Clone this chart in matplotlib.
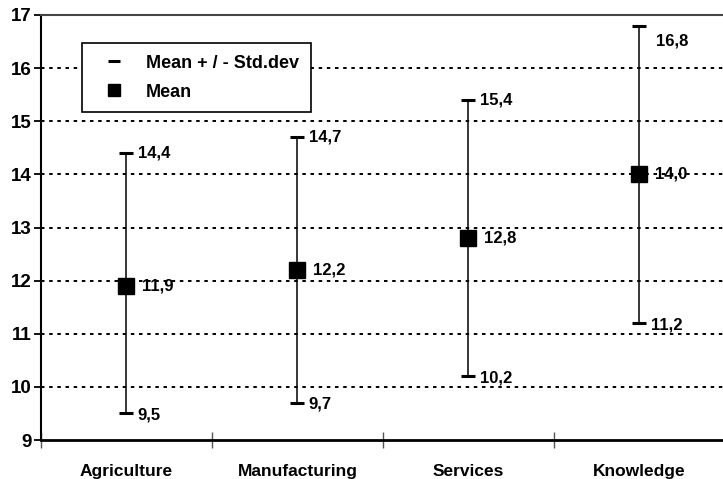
import matplotlib
matplotlib.use("Agg")
import matplotlib.pyplot as plt
from matplotlib.lines import Line2D

# sector statistics
sectors = ["Agriculture", "Manufacturing", "Services", "Knowledge"]
mean_vals = [11.9, 12.2, 12.8, 14.0]
upper_vals = [14.4, 14.7, 15.4, 16.8]
lower_vals = [9.5, 9.7, 10.2, 11.2]
y_ticks = [9, 10, 11, 12, 13, 14, 15, 16, 17]

plt.rcParams["font.family"] = ["Liberation Sans", "DejaVu Sans"]
plt.rcParams["font.weight"] = "bold"


def fmt(v):
    return f"{v:.1f}".replace(".", ",")


fig = plt.figure(figsize=(7.23, 4.79), dpi=100)
ax = fig.add_axes([0.0567, 0.0814, 0.946, 0.8873])

x = [i + 0.5 for i in range(len(sectors))]

# dotted grid
for yv in y_ticks[1:-1]:
    ax.axhline(yv, color="black", lw=1.4, ls=(0, (1.8, 2.4)), zorder=1)

# whiskers
for xi, lo, hi in zip(x, lower_vals, upper_vals):
    ax.plot([xi, xi], [lo, hi], color="black", lw=1.1, zorder=2)
ax.plot(x, upper_vals, ls="none", marker="_", ms=10, mew=2.2, color="black", zorder=3)
ax.plot(x, lower_vals, ls="none", marker="_", ms=10, mew=2.2, color="black", zorder=3)
ax.plot(x, mean_vals, ls="none", marker="s", ms=11, color="black", zorder=4)

# value labels
lab_kw = dict(fontsize=12, fontweight="bold", va="center", ha="left", zorder=5)
for i, (xi, m, lo, hi) in enumerate(zip(x, mean_vals, lower_vals, upper_vals)):
    ax.annotate(fmt(m), (xi, m), xytext=(11, 0), textcoords="offset points", **lab_kw)
    ax.annotate(fmt(lo), (xi, lo), xytext=(8, -1), textcoords="offset points", **lab_kw)
    if i == len(x) - 1:
        ax.annotate(fmt(hi), (xi, hi), xytext=(12, -11), textcoords="offset points", **lab_kw)
    else:
        ax.annotate(fmt(hi), (xi, hi), xytext=(8, 0), textcoords="offset points", **lab_kw)

ax.set_xlim(0, 4)
ax.set_ylim(9, 17)
ax.set_yticks(y_ticks)
ax.set_yticklabels([str(v) for v in y_ticks], fontsize=13.5, fontweight="bold")
ax.tick_params(axis="y", direction="out", length=5, width=1.3, pad=2)

ax.set_xticks([0, 1, 2, 3, 4])
ax.set_xticklabels([])
ax.set_xticks(x, minor=True)
ax.set_xticklabels(sectors, minor=True, fontsize=12.5, fontweight="bold")
ax.tick_params(axis="x", which="major", direction="inout", length=12, width=1, color="#555555")
ax.tick_params(axis="x", which="minor", length=0, pad=17)

ax.spines["right"].set_visible(False)
ax.spines["top"].set_color("#444444")
ax.spines["top"].set_linewidth(1.5)
ax.spines["left"].set_linewidth(1.5)
ax.spines["bottom"].set_linewidth(2)

handles = [
    Line2D([], [], ls="none", marker="_", ms=8, mew=2.2, color="black"),
    Line2D([], [], ls="none", marker="s", ms=9, color="black"),
]
leg = ax.legend(handles, ["Mean + / - Std.dev", "Mean"], loc="upper left",
                bbox_to_anchor=(0.06, 0.934), borderaxespad=0, fancybox=False,
                framealpha=1, edgecolor="black", prop={"size": 13, "weight": "bold"},
                handlelength=2.2, borderpad=0.65, labelspacing=0.65, handletextpad=0.7)
leg.get_frame().set_linewidth(1.2)

fig.savefig("out.png", dpi=100)
